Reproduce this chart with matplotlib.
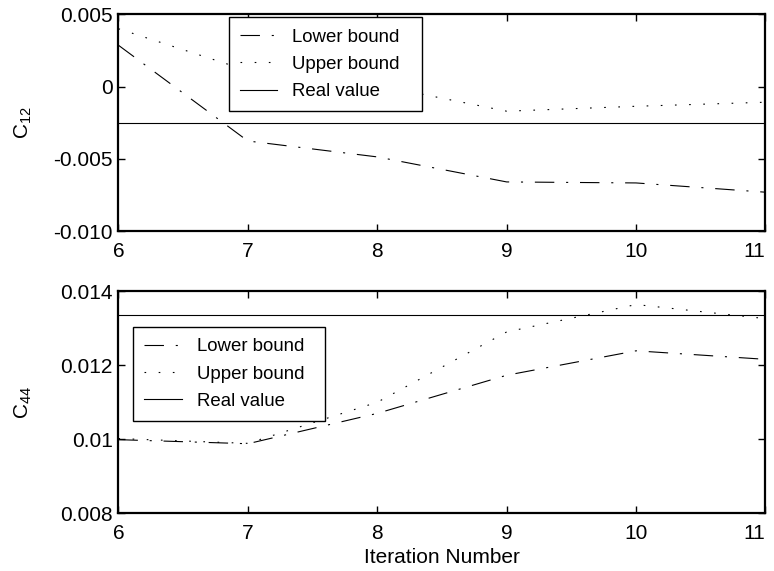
import numpy as np
import matplotlib.pyplot as plt

plt.rcParams['font.family'] = ['Liberation Sans', 'DejaVu Sans']
plt.rcParams['font.size'] = 15
plt.rcParams['mathtext.fontset'] = 'custom'
plt.rcParams['mathtext.rm'] = 'Liberation Sans'
plt.rcParams['mathtext.it'] = 'Liberation Sans'
plt.rcParams['lines.scale_dashes'] = False

iteracion = [6, 7, 8, 9, 10, 11]

# C12
c12_lower = [0.00286, -0.00376, -0.00486, -0.00659, -0.00666, -0.0073]
c12_upper = [0.0040, 0.0011, 0.0001, -0.0017, -0.00136, -0.00108]
c12_real = -0.0025

# C44
c44_lower = [0.00999, 0.00988, 0.0107, 0.01173, 0.01239, 0.01216]
c44_upper = [0.01002, 0.00989, 0.0110, 0.0129, 0.01364, 0.01326]
c44_real = 0.01335

fig = plt.figure(figsize=(7.74, 5.71), dpi=100)
ax1 = fig.add_axes([0.153, 0.595, 0.836, 0.380])
ax2 = fig.add_axes([0.153, 0.101, 0.836, 0.389])

def dibuja(ax, low, up, real, caja):
    ax.plot(iteracion, low, color='k', lw=0.8, dashes=(14, 8.5, 1.5, 8.5), label='Lower bound')
    ax.plot(iteracion, up, color='k', lw=0.8, dashes=(1.2, 9.0), label='Upper bound')
    ax.axhline(real, color='k', lw=0.8, label='Real value')
    ax.set_xlim(6, 11)
    ax.set_xticks(iteracion)
    ax.tick_params(direction='in', top=True, right=True, length=5, width=1)
    ax.tick_params(axis='x', pad=8)
    ax.tick_params(axis='y', pad=4)
    ax.get_xticklabels()[-1].set_ha('right')
    for s in ax.spines.values():
        s.set_linewidth(1.6)
    leg = ax.legend(loc='upper left', bbox_to_anchor=caja, mode='expand',
                    fancybox=False, edgecolor='k', framealpha=1, fontsize=13.4,
                    handlelength=2.0, handletextpad=0.8, borderpad=0.6,
                    labelspacing=0.55, borderaxespad=0)
    leg.get_frame().set_linewidth(1.0)

dibuja(ax1, c12_lower, c12_upper, c12_real, (0.171, 0.5, 0.298, 0.486))
ax1.set_ylim(-0.010, 0.005)
ax1.set_yticks([-0.010, -0.005, 0, 0.005])
ax1.set_yticklabels(['-0.010', '-0.005', '0', '0.005'])
ax1.set_ylabel('C$_{12}$')
ax1.yaxis.set_label_coords(-0.131, 0.5)

dibuja(ax2, c44_lower, c44_upper, c44_real, (0.023, 0.3, 0.296, 0.538))
ax2.set_ylim(0.008, 0.014)
ax2.set_yticks([0.008, 0.010, 0.012, 0.014])
ax2.set_yticklabels(['0.008', '0.01', '0.012', '0.014'])
ax2.set_ylabel('C$_{44}$')
ax2.yaxis.set_label_coords(-0.131, 0.5)
ax2.set_xlabel('Iteration Number')
ax2.xaxis.set_label_coords(0.5, -0.155)

fig.savefig('out.png', dpi=100)
